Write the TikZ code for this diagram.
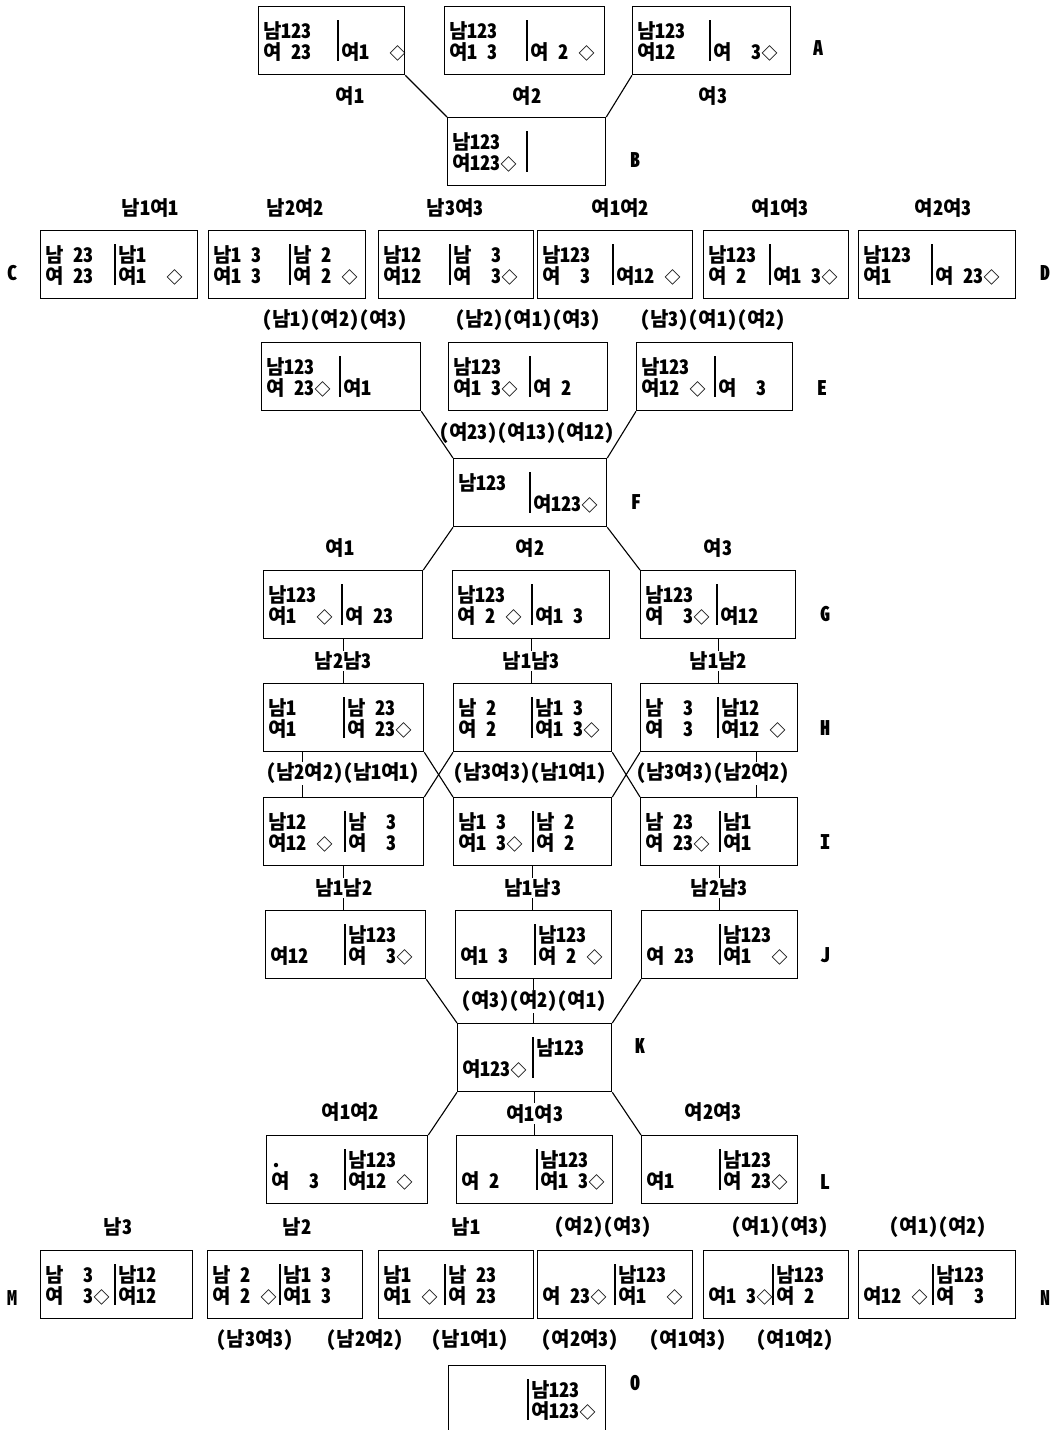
\documentclass[tikz,border=0pt]{standalone}
\usepackage{fontspec}
\setmainfont{Noto Sans CJK KR}[RawFeature=+hwid]
\usetikzlibrary{positioning}
\newcommand\sk{\hspace{.5em}}
\newcommand\bt{{\fontsize{16}{16}\selectfont ◇}}
% one state: name, left, right, top, bar x, left lines, right lines
\newcommand\stbox[9]{%
  \node[stbox,minimum width={(#3-#2)*1pt},anchor=north west] (#1) at (#2,#4) {};
  \draw[bar] (#5,#4+14) -- (#5,#4+55);
  \node[txt] (#1-l1) at (#2+5,#4+32) {#6};
  \node[txt] (#1-l2) at (#2+5,#4+53) {#7};
  \node[txt] (#1-r1) at (#5+3,#4+32) {#8};
  \node[txt] (#1-r2) at (#5+3,#4+53) {#9};
}

\begin{document}
\begin{tikzpicture}[x=1pt,y=-1pt,font=\fontsize{20}{22}\selectfont\bfseries,
    stbox/.style={draw,line width=1.3pt,minimum height=68pt,inner sep=0pt},
    bar/.style={line width=1.2pt},
    txt/.style={anchor=base west,inner sep=0pt},
    lbl/.style={inner sep=1pt},
    tick/.style={line width=.8pt},
    link/.style={line width=1.1pt}]
  \useasboundingbox (0,0) rectangle (1062,1430);
  \fill[white] (0,0) rectangle (1062,1430);

  % A, B
  \stbox{a1}{258}{404}{6}{338}{남123}{여\sk23}{}{여1\sk\sk\bt}
  \stbox{a2}{444}{604}{6}{527}{남123}{여1\sk3}{}{여\sk2\sk\bt}
  \stbox{a3}{632}{790}{6}{710}{남123}{여12}{}{여\sk\sk3\bt}
  \node (ra) at (818,48) {A};
  \node[lbl] (t11) at (350,96) {여1};
  \node[lbl] (t12) at (527,96) {여2};
  \node[lbl] (t13) at (713,96) {여3};
  \stbox{b}{447}{605}{117}{527}{남123}{여123\bt}{}{}
  \node (rb) at (635,160) {B};
  \draw[link] (a1.south east) -- (b.north west);
  \draw[link] (a3.south west) -- (b.north east);

  % C, D
  \node[lbl] (t21) at (150,208) {남1여1};
  \node[lbl] (t22) at (295,208) {남2여2};
  \node[lbl] (t23) at (455,208) {남3여3};
  \node[lbl] (t24) at (620,208) {여1여2};
  \node[lbl] (t25) at (780,208) {여1여3};
  \node[lbl] (t26) at (943,208) {여2여3};
  \stbox{c1}{40}{197}{230}{115}{남\sk23}{여\sk23}{남1}{여1\sk\sk\bt}
  \stbox{c2}{208}{365}{230}{290}{남1\sk3}{여1\sk3}{남\sk2}{여\sk2\sk\bt}
  \stbox{c3}{378}{533}{230}{450}{남12}{여12}{남\sk\sk3}{여\sk\sk3\bt}
  \stbox{d1}{537}{692}{230}{613}{남123}{여\sk\sk3}{}{여12\sk\bt}
  \stbox{d2}{703}{848}{230}{770}{남123}{여\sk2}{}{여1\sk3\bt}
  \stbox{d3}{858}{1015}{230}{932}{남123}{여1}{}{여\sk23\bt}
  \node (rc) at (12,273) {C};
  \node (rd) at (1045,273) {D};

  % E, F
  \node[lbl] (t31) at (335,320) {(남1)(여2)(여3)};
  \node[lbl] (t32) at (528,320) {(남2)(여1)(여3)};
  \node[lbl] (t33) at (713,320) {(남3)(여1)(여2)};
  \stbox{e1}{261}{420}{342}{340}{남123}{여\sk23\bt}{}{여1}
  \stbox{e2}{448}{607}{342}{530}{남123}{여1\sk3\bt}{}{여\sk2}
  \stbox{e3}{636}{792}{342}{715}{남123}{여12\sk\bt}{}{여\sk\sk3}
  \node (re) at (822,388) {E};
  \stbox{f}{453}{606}{458}{530}{남123}{}{}{여123\bt}
  \node (rf) at (636,502) {F};
  \draw[link] (e1.south east) -- (f.north west);
  \draw[link] (e3.south west) -- (f.north east);
  \node[lbl] (t41) at (527,433) {(여23)(여13)(여12)};

  % G
  \stbox{g1}{263}{422}{570}{342}{남123}{여1\sk\sk\bt}{}{여\sk23}
  \stbox{g2}{452}{609}{570}{532}{남123}{여\sk2\sk\bt}{}{여1\sk3}
  \stbox{g3}{640}{795}{570}{717}{남123}{여\sk\sk3\bt}{}{여12}
  \node (rg) at (825,614) {G};
  \draw[link] (f.south west) -- (g1.north east);
  \draw[link] (f.south east) -- (g3.north west);
  \node[lbl] (t51) at (340,548) {여1};
  \node[lbl] (t52) at (530,548) {여2};
  \node[lbl] (t53) at (718,548) {여3};

  % H
  \stbox{h1}{263}{423}{683}{344}{남1}{여1}{남\sk23}{여\sk23\bt}
  \stbox{h2}{453}{611}{683}{532}{남\sk2}{여\sk2}{남1\sk3}{여1\sk3\bt}
  \stbox{h3}{640}{797}{683}{718}{남\sk\sk3}{여\sk\sk3}{남12}{여12\sk\bt}
  \node (rh) at (825,728) {H};
  \draw[tick] (g1.south) -- (g1.south |- h1.north) node[midway,fill=white,lbl] (t61) {남2남3};
  \draw[tick] (g2.south) -- (g2.south |- h2.north) node[midway,fill=white,lbl] (t62) {남1남3};
  \draw[tick] (g3.south) -- (g3.south |- h3.north) node[midway,fill=white,lbl] (t63) {남1남2};

  % I
  \stbox{i1}{263}{423}{797}{345}{남12}{여12\sk\bt}{남\sk\sk3}{여\sk\sk3}
  \stbox{i2}{453}{611}{797}{533}{남1\sk3}{여1\sk3\bt}{남\sk2}{여\sk2}
  \stbox{i3}{640}{797}{797}{720}{남\sk23}{여\sk23\bt}{남1}{여1}
  \node (ri) at (825,842) {I};
  \draw[link] (h1.south east) -- (i2.north west);
  \draw[link] (h2.south west) -- (i1.north east);
  \draw[link] (h2.south east) -- (i3.north west);
  \draw[link] (h3.south west) -- (i2.north east);
  \draw[tick] ([xshift=39pt]h1.south west) -- ([xshift=39pt]i1.north west);
  \draw[tick] ([xshift=-42pt]h3.south east) -- ([xshift=-42pt]i3.north east);
  \node[lbl,fill=white] (t71) at (343,773) {(남2여2)(남1여1)};
  \node[lbl,fill=white] (t72) at (530,773) {(남3여3)(남1여1)};
  \node[lbl,fill=white] (t73) at (713,773) {(남3여3)(남2여2)};

  % J, K
  \stbox{j1}{265}{425}{910}{345}{}{여12}{남123}{여\sk\sk3\bt}
  \stbox{j2}{455}{611}{910}{535}{}{여1\sk3}{남123}{여\sk2\sk\bt}
  \stbox{j3}{641}{797}{910}{720}{}{여\sk23}{남123}{여1\sk\sk\bt}
  \node (rj) at (825,955) {J};
  \draw[tick] (i1.south) -- (i1.south |- j1.north) node[midway,fill=white,lbl] (t81) {남1남2};
  \draw[tick] (i2.south) -- (i2.south |- j2.north) node[midway,fill=white,lbl] (t82) {남1남3};
  \draw[tick] (i3.south) -- (i3.south |- j3.north) node[midway,fill=white,lbl] (t83) {남2남3};
  \stbox{k}{457}{611}{1023}{533}{}{여123\bt}{남123}{}
  \node (rk) at (640,1046) {K};
  \draw[link] (j1.south east) -- (k.north west);
  \draw[link] (j3.south west) -- (k.north east);
  \draw[tick] (j2.south) -- (j2.south |- k.north) node[midway,fill=white,lbl] (t91) {(여3)(여2)(여1)};

  % L
  \stbox{l1}{266}{427}{1135}{345}{.}{여\sk\sk3}{남123}{여12\sk\bt}
  \stbox{l2}{456}{612}{1135}{537}{}{여\sk2}{남123}{여1\sk3\bt}
  \stbox{l3}{641}{797}{1135}{720}{}{여1}{남123}{여\sk23\bt}
  \node (rl) at (825,1182) {L};
  \draw[link] (k.south west) -- (l1.north east);
  \draw[link] (k.south east) -- (l3.north west);
  \draw[tick] (k.south) -- (k.south |- l2.north) node[midway,fill=white,lbl] (t102) {여1여3};
  \node[lbl] (t101) at (350,1112) {여1여2};
  \node[lbl] (t103) at (713,1112) {여2여3};

  % M, N
  \node[lbl] (t111) at (118,1227) {남3};
  \node[lbl] (t112) at (297,1227) {남2};
  \node[lbl] (t113) at (466,1227) {남1};
  \node[lbl] (t114) at (603,1227) {(여2)(여3)};
  \node[lbl] (t115) at (780,1227) {(여1)(여3)};
  \node[lbl] (t116) at (938,1227) {(여1)(여2)};
  \stbox{m1}{40}{192}{1250}{115}{남\sk\sk3}{여\sk\sk3\bt}{남12}{여12}
  \stbox{m2}{207}{362}{1250}{280}{남\sk2}{여\sk2\sk\bt}{남1\sk3}{여1\sk3}
  \stbox{m3}{378}{533}{1250}{445}{남1}{여1\sk\bt}{남\sk23}{여\sk23}
  \stbox{n1}{537}{692}{1250}{615}{}{여\sk23\bt}{남123}{여1\sk\sk\bt}
  \stbox{n2}{703}{848}{1250}{773}{}{여1\sk3\bt}{남123}{여\sk2}
  \stbox{n3}{858}{1015}{1250}{933}{}{여12\sk\bt}{남123}{여\sk\sk3}
  \node (rm) at (12,1298) {M};
  \node (rn) at (1045,1298) {N};
  \node[lbl] (t121) at (255,1340) {(남3여3)};
  \node[lbl] (t122) at (365,1340) {(남2여2)};
  \node[lbl] (t123) at (470,1340) {(남1여1)};
  \node[lbl] (t124) at (580,1340) {(여2여3)};
  \node[lbl] (t125) at (688,1340) {(여1여3)};
  \node[lbl] (t126) at (795,1340) {(여1여2)};

  % O
  \stbox{o}{448}{605}{1365}{528}{}{}{남123}{여123\bt}
  \node (ro) at (635,1383) {O};
\end{tikzpicture}
\end{document}
